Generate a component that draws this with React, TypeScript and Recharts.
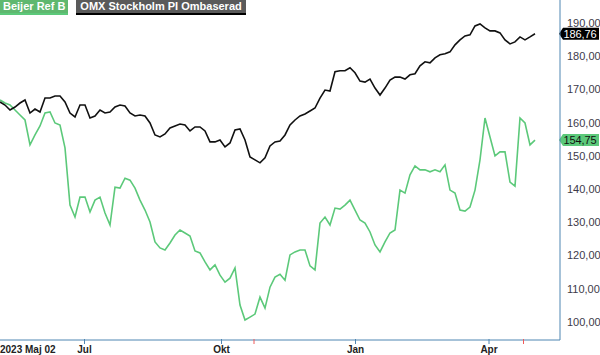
import { LineChart, Line, XAxis, YAxis, ReferenceLine } from 'recharts'

// rebased closing prices, sampled roughly every 2-3 trading days, 2023-05-02 .. 2024-05
const omx = [
  166.2, 165.3, 163.8, 164.7, 165.9, 166.8, 162.9, 164.1, 163.2, 167.4,
  167.4, 168.0, 168.0, 166.2, 162.9, 161.7, 165.3, 165.3, 161.4, 162.0,
  163.8, 162.9, 163.2, 164.7, 165.3, 165.0, 162.9, 162.0, 162.3, 162.0,
  159.9, 156.3, 155.7, 156.6, 158.4, 159.0, 159.6, 159.3, 157.5, 158.7,
  158.7, 157.5, 154.2, 154.2, 154.8, 152.7, 153.9, 157.8, 158.1, 154.8,
  149.7, 148.8, 147.9, 149.4, 153.0, 154.2, 154.5, 156.3, 159.3, 160.8,
  162.0, 162.6, 163.5, 164.4, 167.4, 169.8, 169.5, 175.3, 175.6, 175.6,
  176.5, 175.0, 172.5, 172.2, 173.1, 170.4, 168.3, 170.4, 172.8, 173.7,
  173.7, 173.1, 174.4, 174.7, 177.1, 178.3, 178.0, 179.5, 180.4, 180.7,
  181.3, 183.4, 184.9, 186.1, 186.4, 189.1, 189.7, 188.5, 187.6, 187.6,
  187.0, 184.9, 183.7, 184.3, 185.8, 184.9, 185.8, 186.76,
]

const beijer = [
  166.8, 165.9, 165.3, 163.8, 162.3, 160.8, 153.3, 156.3, 159.0, 162.9,
  163.2, 159.9, 159.3, 152.4, 135.2, 131.6, 137.6, 137.6, 133.1, 136.7,
  137.6, 132.8, 129.2, 140.6, 140.3, 143.3, 142.7, 140.3, 136.7, 133.7,
  130.1, 124.1, 122.3, 121.7, 123.8, 126.2, 127.7, 126.8, 125.9, 121.4,
  120.8, 118.1, 115.7, 117.2, 114.1, 112.0, 113.2, 116.3, 105.1, 100.6,
  101.5, 102.4, 107.5, 104.2, 110.5, 113.5, 114.4, 112.6, 120.2, 121.1,
  121.7, 121.7, 116.9, 115.7, 129.8, 131.6, 129.2, 134.3, 134.0, 135.2,
  136.7, 133.7, 130.7, 129.8, 127.1, 123.2, 121.1, 124.1, 126.8, 127.7,
  139.7, 138.8, 144.3, 147.0, 145.8, 145.8, 145.2, 145.8, 145.2, 147.3,
  139.7, 138.8, 133.7, 133.4, 134.6, 139.7, 148.8, 161.4, 155.7, 150.0,
  151.2, 151.2, 142.1, 140.9, 161.4, 159.9, 153.3, 154.75,
]

// month labels and where they fall on the sample index
const monthLabels = ['2023 Maj 02', 'Jul', 'Okt', 'Jan', 'Apr']
const monthPos = [0, 16.9, 44.3, 71.1, 97.8]
// red event marks on the time axis
const eventPos = [50.8, 104.7]

const yTicks = [100, 110, 120, 130, 140, 150, 160, 170, 180, 190]

const data = omx.map((v, i) => ({ i, omx: v, beijer: beijer[i] }))

const GREEN = '#5cc97a'
const AXIS = '#4f86b2'
const FONT = 'Arial, "Liberation Sans", sans-serif'

const fmt = (v: number) => v.toFixed(2).replace('.', ',')

function XTick(props: any) {
  const { x, y, payload } = props
  const v = payload.value
  const isEvent = eventPos.includes(v)
  const idx = monthPos.indexOf(v)
  const top = y - 1
  return (
    <g>
      {idx !== 0 && (
        <line x1={x} x2={x} y1={top} y2={top + 5} stroke={isEvent ? '#f05a5a' : AXIS} strokeWidth={1} />
      )}
      {idx >= 0 && (
        <text
          x={x}
          y={top + 14}
          textAnchor={idx === 0 ? 'start' : 'middle'}
          fontSize={10}
          fontWeight="bold"
          fontFamily={FONT}
          fill="#222"
        >
          {monthLabels[idx]}
        </text>
      )}
    </g>
  )
}

function Badge({ viewBox, value, bg, color }: any) {
  const x = viewBox.x + viewBox.width - 1
  const y = viewBox.y
  const h = 12
  const right = 599
  const path = `M${x},${y} L${x + 4},${y - h / 2} L${right},${y - h / 2} L${right},${y + h / 2} L${x + 4},${y + h / 2} Z`
  return (
    <g>
      <path d={path} fill={bg} />
      <text x={x + 4.5} y={y + 4} fontSize={11} letterSpacing={-0.1} fontFamily={FONT} fill={color}>
        {fmt(value)}
      </text>
    </g>
  )
}

export default function App() {
  const lastOmx = omx[omx.length - 1]
  const lastBeijer = beijer[beijer.length - 1]
  return (
    <div style={{ position: 'absolute', left: 0, top: 0, width: 600, height: 355, fontFamily: FONT }}>
      <LineChart width={600} height={355} data={data} margin={{ top: 0, right: 0, left: 0, bottom: 0 }}>
        <XAxis
          dataKey="i"
          type="number"
          domain={[0, 112]}
          ticks={[...monthPos, ...eventPos]}
          interval={0}
          height={15}
          tickLine={false}
          tickSize={0}
          tickMargin={0}
          stroke={AXIS}
          tick={<XTick />}
        />
        <YAxis
          orientation="right"
          width={40}
          domain={[94.6, 196.9]}
          ticks={yTicks}
          tickFormatter={fmt}
          tickLine={false}
          tickSize={0}
          tickMargin={7}
          stroke={AXIS}
          tick={{ fontSize: 11, fill: '#3d3a4a', fontFamily: FONT }}
        />
        <Line
          dataKey="beijer"
          stroke={GREEN}
          strokeWidth={1.6}
          dot={false}
          isAnimationActive={false}
        />
        <Line
          dataKey="omx"
          stroke="#111"
          strokeWidth={1.6}
          dot={false}
          isAnimationActive={false}
        />
        <ReferenceLine
          y={lastOmx}
          stroke="none"
          label={(p: any) => <Badge viewBox={p.viewBox} value={lastOmx} bg="#000" color="#fff" />}
        />
        <ReferenceLine
          y={lastBeijer}
          stroke="none"
          label={(p: any) => <Badge viewBox={p.viewBox} value={lastBeijer} bg={GREEN} color="#111" />}
        />
      </LineChart>
      <div style={{ position: 'absolute', left: 0, top: 0, display: 'flex', gap: 8 }}>
        <div
          style={{
            background: '#5fb86f',
            color: '#fff',
            fontWeight: 'bold',
            fontSize: 11,
            lineHeight: '13px',
            padding: '0 3px',
            borderBottom: '2px solid ' + GREEN,
          }}
        >
          Beijer Ref B
        </div>
        <div
          style={{
            background: '#5a5a5a',
            color: '#fff',
            fontWeight: 'bold',
            fontSize: 11,
            lineHeight: '13px',
            padding: '0 4px',
            borderBottom: '2px solid #000',
          }}
        >
          OMX Stockholm PI Ombaserad
        </div>
      </div>
    </div>
  )
}
